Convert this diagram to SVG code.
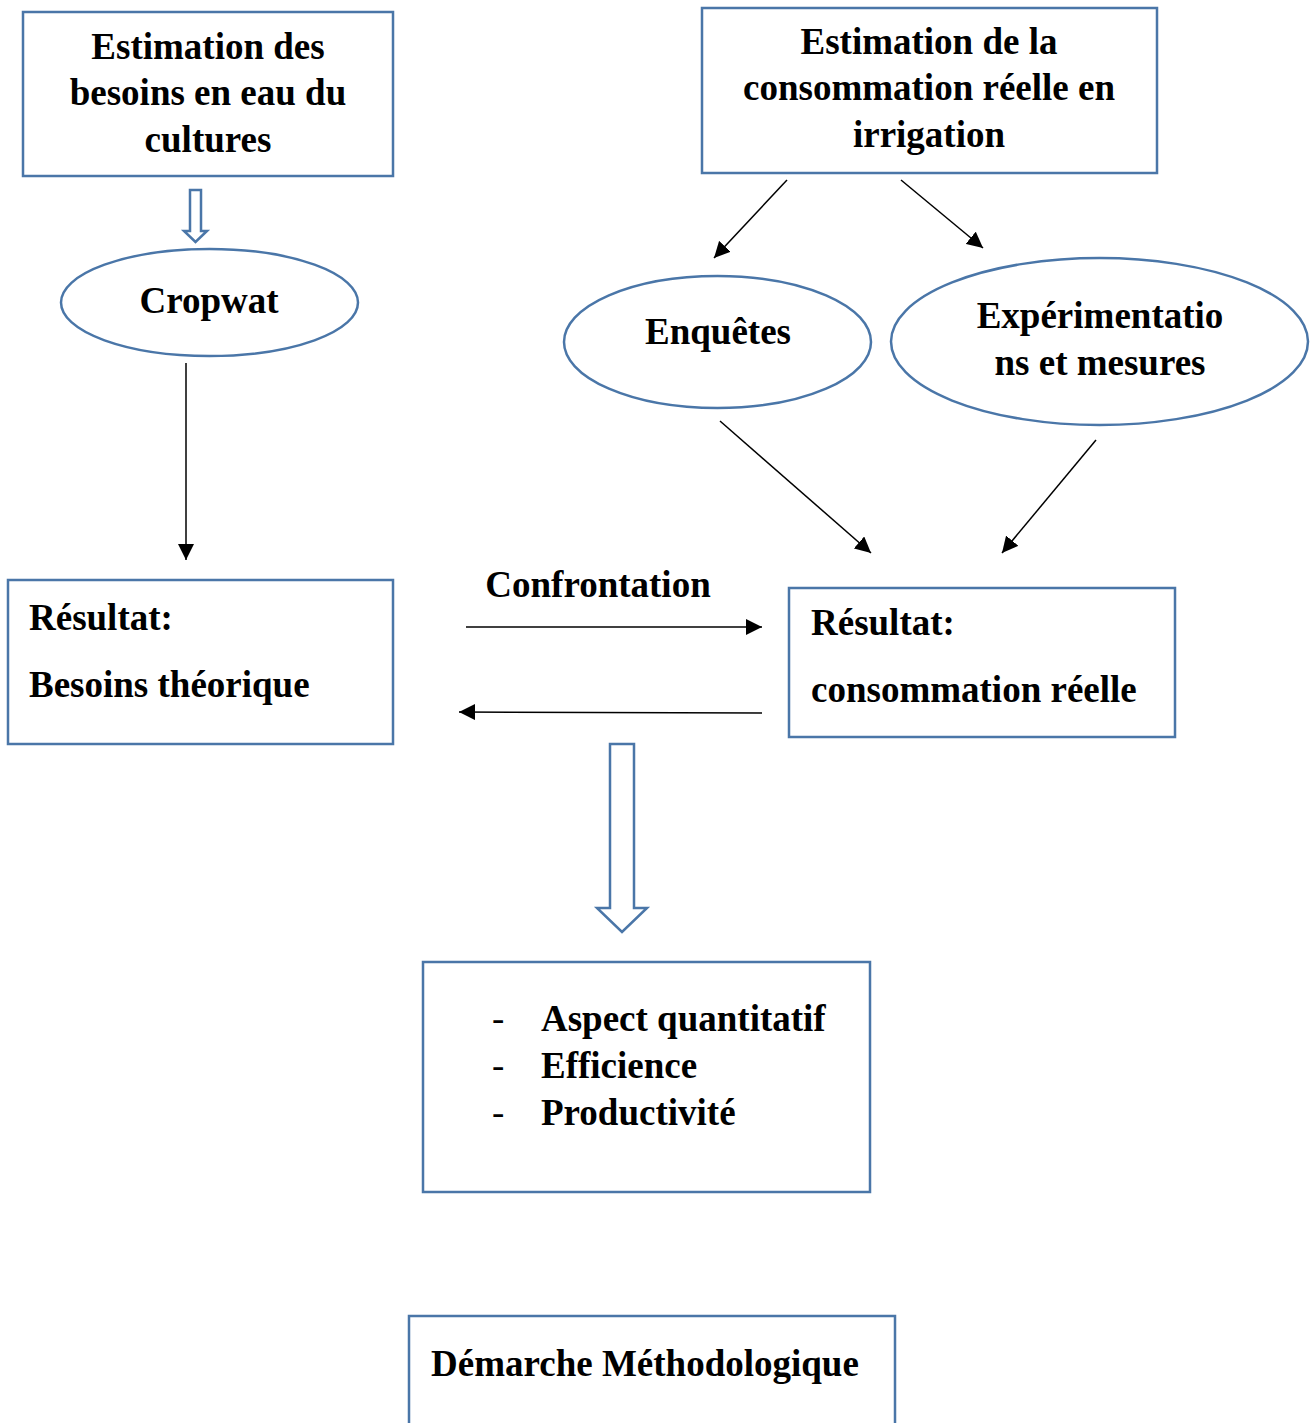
<svg xmlns="http://www.w3.org/2000/svg" width="1312" height="1423" viewBox="0 0 1312 1423">
<style>
.box{fill:#fff;stroke:#4A76A8;stroke-width:2.5}
.hol{fill:#fff;stroke:#4A76A8;stroke-width:2.5;stroke-linejoin:miter}
.t{font-family:"Liberation Serif","Times New Roman",serif;font-weight:bold;font-size:37px;fill:#000}
.c{text-anchor:middle}
.dash{font-weight:normal}
.ln{stroke:#000;stroke-width:1.5;fill:none;marker-end:url(#ah)}
</style>
<defs>
<marker id="ah" viewBox="0 0 16 16" refX="16" refY="8" markerWidth="16" markerHeight="16" markerUnits="userSpaceOnUse" orient="auto">
<path d="M0,0 L16,8 L0,16 Z" fill="#000"/>
</marker>
</defs>
<rect width="1312" height="1423" fill="#fff"/>

<g id="connectors">
<polygon class="hol" points="190,190 201,190 201,231 207,231 195.5,242 184,231 190,231"/>
<line class="ln" x1="186" y1="363" x2="186" y2="560"/>
<line class="ln" x1="787" y1="180" x2="714" y2="258"/>
<line class="ln" x1="901" y1="180" x2="983" y2="248"/>
<line class="ln" x1="720" y1="421" x2="871" y2="553"/>
<line class="ln" x1="1096" y1="440" x2="1002" y2="553"/>
<line class="ln" x1="466" y1="627" x2="762" y2="627"/>
<line class="ln" x1="762" y1="713" x2="459" y2="712"/>
<polygon class="hol" points="610,744 634,744 634,908 647,908 622,932 597,908 610,908"/>
</g>

<g id="box-besoins">
<rect class="box" x="23" y="12" width="370" height="164"/>
<text class="t c" x="208" y="59">Estimation des</text>
<text class="t c" x="208" y="105">besoins en eau du</text>
<text class="t c" x="208" y="152">cultures</text>
</g>

<g id="box-consommation">
<rect class="box" x="702" y="8" width="455" height="165"/>
<text class="t c" x="929" y="54">Estimation de la</text>
<text class="t c" x="929" y="100">consommation réelle en</text>
<text class="t c" x="929" y="147">irrigation</text>
</g>

<g id="ell-cropwat">
<ellipse class="box" cx="209.5" cy="302.5" rx="148.5" ry="53.5"/>
<text class="t c" x="209" y="313">Cropwat</text>
</g>

<g id="ell-enquetes">
<ellipse class="box" cx="717.5" cy="342" rx="153.5" ry="66"/>
<text class="t c" x="718" y="344">Enquêtes</text>
</g>

<g id="ell-experimentations">
<ellipse class="box" cx="1099.5" cy="341.5" rx="208.5" ry="83.5"/>
<text class="t c" x="1100" y="328">Expérimentatio</text>
<text class="t c" x="1100" y="375">ns et mesures</text>
</g>

<g id="res-besoins">
<rect class="box" x="8" y="580" width="385" height="164"/>
<text class="t" x="29" y="630">Résultat:</text>
<text class="t" x="29" y="697">Besoins théorique</text>
</g>

<g id="label-confrontation">
<text class="t c" x="598" y="597">Confrontation</text>
</g>

<g id="res-consommation">
<rect class="box" x="789" y="588" width="386" height="149"/>
<text class="t" x="811" y="635">Résultat:</text>
<text class="t" x="811" y="702">consommation réelle</text>
</g>

<g id="box-aspects">
<rect class="box" x="423" y="962" width="447" height="230"/>
<text class="t dash" x="492" y="1031">-</text>
<text class="t" x="541" y="1031">Aspect quantitatif</text>
<text class="t dash" x="492" y="1078">-</text>
<text class="t" x="541" y="1078">Efficience</text>
<text class="t dash" x="492" y="1125">-</text>
<text class="t" x="541" y="1125">Productivité</text>
</g>

<g id="box-demarche">
<rect class="box" x="409" y="1316" width="486" height="140"/>
<text class="t" x="431" y="1376">Démarche Méthodologique</text>
</g>
</svg>
